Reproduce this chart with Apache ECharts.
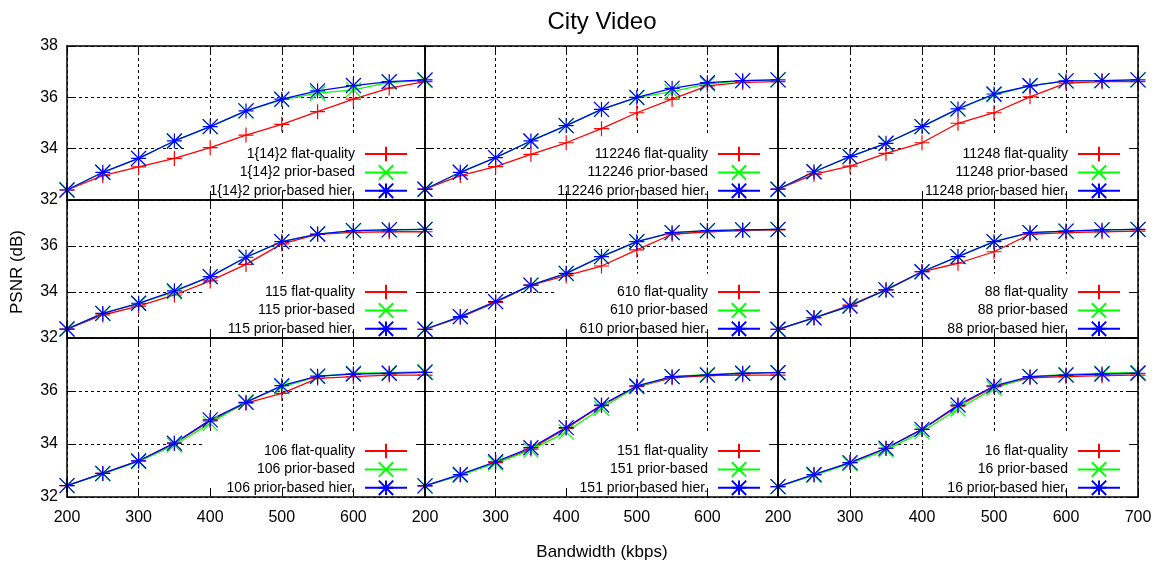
<!DOCTYPE html>
<html>
<head>
<meta charset="utf-8">
<script src="https://cdn.jsdelivr.net/npm/echarts@6/dist/echarts.min.js"></script>
<style>
  html, body { margin: 0; padding: 0; background: #fff; }
  #chart { width: 1164px; height: 570px; }
</style>
</head>
<body>
<div id="chart"></div>
<script>
// ---- data -------------------------------------------------------------
const bandwidth = [200, 250, 300, 350, 400, 450, 500, 550, 600, 650, 700];
const xTickValues = [200, 300, 400, 500, 600, 700];
const yTickValues = [32, 34, 36, 38];

const panelLabels = ['1{14}2', '112246', '11248', '115', '610', '88', '106', '151', '16'];
const methodNames = ['flat-quality', 'prior-based', 'prior-based hier.'];

// PSNR (dB) per bandwidth step, one array per panel and method
const flat_1142   = [32.39, 32.95, 33.29, 33.62, 34.04, 34.53, 34.95, 35.44, 35.93, 36.36, 36.61];
const prior_1142  = [32.39, 33.08, 33.62, 34.30, 34.86, 35.47, 35.90, 36.16, 36.29, 36.58, 36.65];
const hier_1142   = [32.39, 33.08, 33.62, 34.30, 34.86, 35.47, 35.93, 36.25, 36.46, 36.61, 36.68];

const flat_112246  = [32.42, 32.95, 33.30, 33.78, 34.23, 34.78, 35.40, 35.93, 36.45, 36.58, 36.61];
const prior_112246 = [32.42, 33.08, 33.65, 34.30, 34.90, 35.53, 35.99, 36.22, 36.52, 36.65, 36.68];
const hier_112246  = [32.42, 33.08, 33.65, 34.30, 34.90, 35.53, 36.00, 36.35, 36.57, 36.65, 36.68];

const flat_11248  = [32.42, 33.00, 33.32, 33.82, 34.23, 34.99, 35.40, 36.02, 36.55, 36.61, 36.61];
const prior_11248 = [32.42, 33.10, 33.69, 34.21, 34.86, 35.55, 36.10, 36.45, 36.64, 36.65, 36.68];
const hier_11248  = [32.42, 33.10, 33.69, 34.21, 34.86, 35.55, 36.13, 36.45, 36.64, 36.65, 36.68];

const flat_115  = [32.39, 33.00, 33.39, 33.87, 34.48, 35.20, 36.09, 36.51, 36.59, 36.62, 36.62];
const prior_115 = [32.39, 33.07, 33.51, 34.01, 34.67, 35.51, 36.19, 36.52, 36.67, 36.70, 36.72];
const hier_115  = [32.39, 33.07, 33.51, 34.05, 34.67, 35.51, 36.19, 36.52, 36.67, 36.70, 36.72];

const flat_610  = [32.38, 32.90, 33.55, 34.30, 34.71, 35.13, 35.83, 36.51, 36.62, 36.67, 36.70];
const prior_610 = [32.38, 32.93, 33.58, 34.30, 34.81, 35.54, 36.19, 36.58, 36.67, 36.70, 36.72];
const hier_610  = [32.38, 32.93, 33.58, 34.30, 34.81, 35.54, 36.19, 36.58, 36.67, 36.70, 36.72];

const flat_88  = [32.38, 32.88, 33.43, 34.09, 34.88, 35.25, 35.75, 36.51, 36.58, 36.62, 36.65];
const prior_88 = [32.38, 32.88, 33.39, 34.09, 34.88, 35.54, 36.19, 36.58, 36.65, 36.70, 36.72];
const hier_88  = [32.38, 32.88, 33.39, 34.09, 34.88, 35.54, 36.19, 36.58, 36.65, 36.70, 36.72];

const flat_106  = [32.43, 32.89, 33.36, 34.03, 34.87, 35.54, 35.91, 36.48, 36.54, 36.60, 36.60];
const prior_106 = [32.43, 32.87, 33.34, 33.96, 34.78, 35.60, 36.16, 36.54, 36.67, 36.69, 36.73];
const hier_106  = [32.43, 32.89, 33.36, 34.03, 34.91, 35.57, 36.20, 36.56, 36.64, 36.67, 36.70];

const flat_151  = [32.42, 32.83, 33.30, 33.81, 34.59, 35.45, 36.16, 36.50, 36.58, 36.60, 36.60];
const prior_151 = [32.42, 32.82, 33.28, 33.77, 34.46, 35.35, 36.16, 36.54, 36.63, 36.67, 36.70];
const hier_151  = [32.42, 32.85, 33.33, 33.86, 34.62, 35.47, 36.19, 36.54, 36.60, 36.67, 36.69];

const flat_16  = [32.39, 32.83, 33.30, 33.84, 34.55, 35.43, 36.16, 36.50, 36.54, 36.58, 36.60];
const prior_16 = [32.39, 32.82, 33.26, 33.77, 34.46, 35.32, 36.10, 36.54, 36.63, 36.67, 36.70];
const hier_16  = [32.39, 32.85, 33.30, 33.84, 34.55, 35.47, 36.19, 36.54, 36.60, 36.64, 36.67];

const panelSeries = [
  [flat_1142, prior_1142, hier_1142],
  [flat_112246, prior_112246, hier_112246],
  [flat_11248, prior_11248, hier_11248],
  [flat_115, prior_115, hier_115],
  [flat_610, prior_610, hier_610],
  [flat_88, prior_88, hier_88],
  [flat_106, prior_106, hier_106],
  [flat_151, prior_151, hier_151],
  [flat_16, prior_16, hier_16]
];

// ---- look -------------------------------------------------------------
const W = 1164, H = 570;
const FONT = '"Liberation Sans", Arial, Helvetica, sans-serif';
const colLeft = [67, 425, 778];
const colWidth = [358, 353, 360];
const rowTop = [46, 200, 338];
const rowHeight = [154, 138, 159];

const methodColors = ['#ff0000', '#00ff00', '#0000ff'];
const methodSymbols = [
  'path://M0,5L10,5M5,0L5,10',                        // plus
  'path://M0,0L10,10M10,0L0,10',                      // cross
  'path://M0,5L10,5M5,0L5,10M0,0L10,10M10,0L0,10'     // star
];

const grids = [], xAxes = [], yAxes = [], series = [], legends = [];

function frameAxis(gridIndex, pos, isX) {
  const base = isX ? { min: 200, max: 700, interval: 100 } : { min: 32, max: 38, interval: 2 };
  return Object.assign({
    gridIndex, type: 'value', position: pos, z: 3,
    axisLine: { show: true, onZero: false, lineStyle: { color: '#000', width: 1.5 } },
    axisTick: { show: true, inside: true, length: 9, lineStyle: { color: '#000', width: 1 } },
    axisLabel: { show: false },
    splitLine: { show: false }
  }, base);
}

for (let p = 0; p < 9; p++) {
  const r = Math.floor(p / 3), c = p % 3;
  grids.push({ left: colLeft[c], top: rowTop[r], width: colWidth[c], height: rowHeight[r] });

  // main axes: labels + dashed grid, underneath the key box
  xAxes.push({
    gridIndex: p, type: 'value', min: xTickValues[0], max: xTickValues[xTickValues.length - 1],
    interval: 100, position: 'bottom', z: 0,
    axisLine: { show: false, onZero: false }, axisTick: { show: false },
    axisLabel: {
      show: r === 2, fontSize: 16, color: '#000', fontFamily: FONT, margin: 13,
      formatter: v => (c < 2 && v === 700) ? '' : String(v)
    },
    splitLine: { show: true, lineStyle: { color: '#000', width: 1, type: [3, 3] } }
  });
  xAxes.push(frameAxis(p, 'bottom', true));
  xAxes.push(frameAxis(p, 'top', true));

  yAxes.push({
    gridIndex: p, type: 'value', min: yTickValues[0], max: yTickValues[yTickValues.length - 1],
    interval: 2, position: 'left', z: 0,
    axisLine: { show: false, onZero: false }, axisTick: { show: false },
    axisLabel: {
      show: c === 0, fontSize: 16, color: '#000', fontFamily: FONT, margin: 9,
      formatter: v => (r > 0 && v === 38) ? '' : String(v)
    },
    splitLine: { show: true, lineStyle: { color: '#000', width: 1, type: [3, 3] } }
  });
  yAxes.push(frameAxis(p, 'left', false));
  yAxes.push(frameAxis(p, 'right', false));

  const names = [];
  for (let m = 0; m < 3; m++) {
    const name = panelLabels[p] + ' ' + methodNames[m];
    names.push(name);
    const vals = panelSeries[p][m];
    series.push({
      type: 'line', name,
      xAxisIndex: p * 3, yAxisIndex: p * 3,
      data: bandwidth.map((b, i) => [b, vals[i]]),
      symbol: methodSymbols[m], symbolSize: 15,
      showAllSymbol: true, clip: false,
      lineStyle: { color: methodColors[m], width: 1.3 },
      itemStyle: { color: methodColors[m], borderColor: methodColors[m], borderWidth: 1.2 },
      emphasis: { disabled: true },
      z: 2, animation: false
    });
  }

  legends.push({
    data: names, orient: 'vertical', align: 'right',
    right: W - (colLeft[c] + colWidth[c]) + 1,
    bottom: H - (rowTop[r] + rowHeight[r]) + 1,
    itemWidth: 42, itemHeight: 18, itemGap: 2,
    padding: [10, 16, 0, 24],
    backgroundColor: '#fff', z: 1, selectedMode: false,
    textStyle: { fontSize: 14, color: '#000', fontFamily: FONT, padding: [0, 5, 0, 0] }
  });
}

const chart = echarts.init(document.getElementById('chart'), null, { renderer: 'canvas' });
chart.setOption({
  backgroundColor: '#fff',
  animation: false,
  grid: grids,
  xAxis: xAxes,
  yAxis: yAxes,
  legend: legends,
  series,
  graphic: [
    { type: 'text', x: 602, y: 22, z: 10,
      style: { text: 'City Video', fill: '#000', font: '24px ' + FONT, align: 'center', verticalAlign: 'middle' } },
    { type: 'text', x: 602, y: 552, z: 10,
      style: { text: 'Bandwidth (kbps)', fill: '#000', font: '17px ' + FONT, align: 'center', verticalAlign: 'middle' } },
    { type: 'text', x: 17, y: 272, rotation: Math.PI / 2, z: 10,
      style: { text: 'PSNR (dB)', fill: '#000', font: '17px ' + FONT, align: 'center', verticalAlign: 'middle' } }
  ]
});
</script>
</body>
</html>
